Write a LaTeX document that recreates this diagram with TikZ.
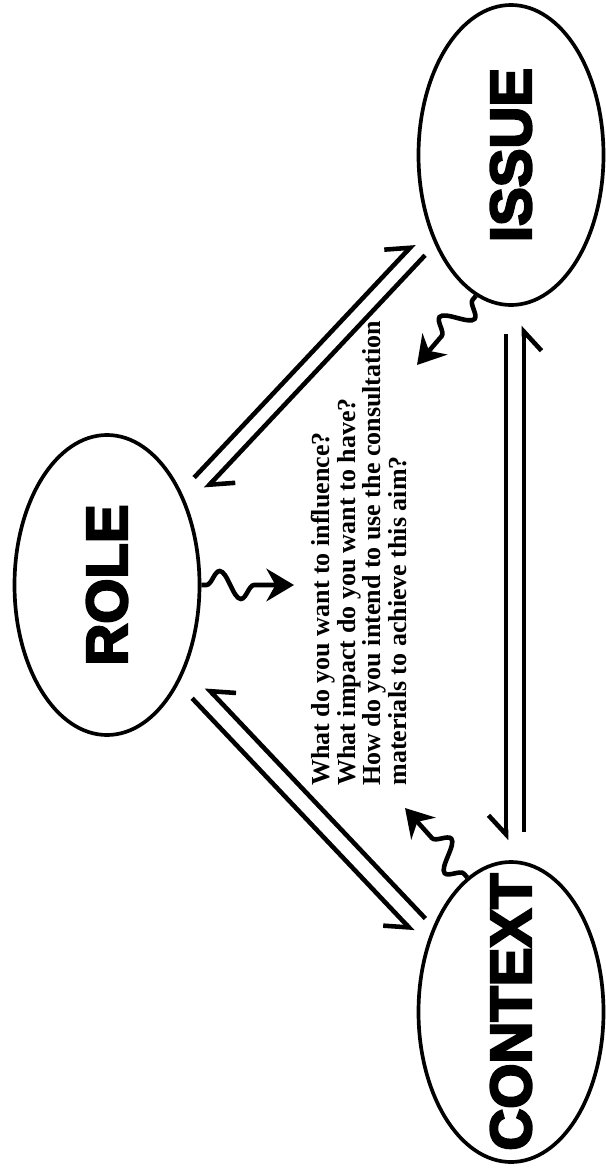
\documentclass[tikz,border=0pt]{standalone}
\usepackage{fontspec}
\setmainfont{Liberation Serif}
\newfontfamily\heavyfont{Liberation Sans}[FakeBold=4]
\usetikzlibrary{shapes.geometric,arrows.meta,decorations.pathmorphing}

\begin{document}
\begin{tikzpicture}[x=0.2mm,y=-0.2mm,
        hub/.style={ellipse,draw,line width=2.1pt,minimum width=60mm,minimum height=37mm,
            inner xsep=-8mm,rotate=90,font=\heavyfont\bfseries\fontsize{33}{33}\selectfont},
        lane/.style={line width=2.6pt},
        barbl/.style={lane,-{Straight Barb[left,length=3.8mm,width=7mm]}},
        barbr/.style={lane,-{Straight Barb[right,length=3.8mm,width=7mm]}},
        wiggle/.style={line width=2.6pt,-{Stealth[length=5.5mm,width=6.5mm]},decorate,
            decoration={snake,amplitude=2.8mm,segment length=8.5mm,pre length=1mm,post length=5mm}}]
                \useasboundingbox (0,0) rectangle (606,1169);
                \node[hub] (role) at (107,585) {ROLE};
                \node[hub] (issue) at (511,155) {ISSUE};
                \node[hub] (context) at (511,1012) {CONTEXT};
                \node[rotate=90,anchor=north west,inner sep=0pt,align=left,
                    font=\bfseries\fontsize{14.8}{14.5}\selectfont] (aims) at (311,786)
                    {What do you want to influence?\\What impact do you want to have?\\How do you intend to use the consultation\\materials to achieve this aim?};
                \coordinate (toR) at (294,585);
                \coordinate (toI) at (417,365);
                \coordinate (toC) at (405,808);
                \draw[barbl,shorten <=4.6mm,shorten >=3.2mm,transform canvas={shift={(-7.3,-6.9)}}] (role) -- (issue);
                \draw[barbl,shorten <=3.4mm,shorten >=4.5mm,transform canvas={shift={(4.4,4.1)}}] (issue) -- (role);
                \draw[barbr,shorten <=2.4mm,shorten >=5.5mm,transform canvas={shift={(1.5,-1.4)}}] (context) -- (role);
                \draw[barbr,shorten <=5.2mm,shorten >=2.2mm,transform canvas={shift={(-11.6,11)}}] (role) -- (context);
                \draw[barbr,shorten <=5.4mm,shorten >=4mm,transform canvas={shift={(-5,0)}}] (issue) -- (context);
                \draw[barbr,shorten <=5.6mm,shorten >=3.8mm,transform canvas={shift={(13,0)}}] (context) -- (issue);
                \draw[wiggle] (role.south) -- (toR);
                \draw[wiggle] (issue.166) -- (toI);
                \draw[wiggle] (context.18) -- (toC);
            \end{tikzpicture}
\end{document}
